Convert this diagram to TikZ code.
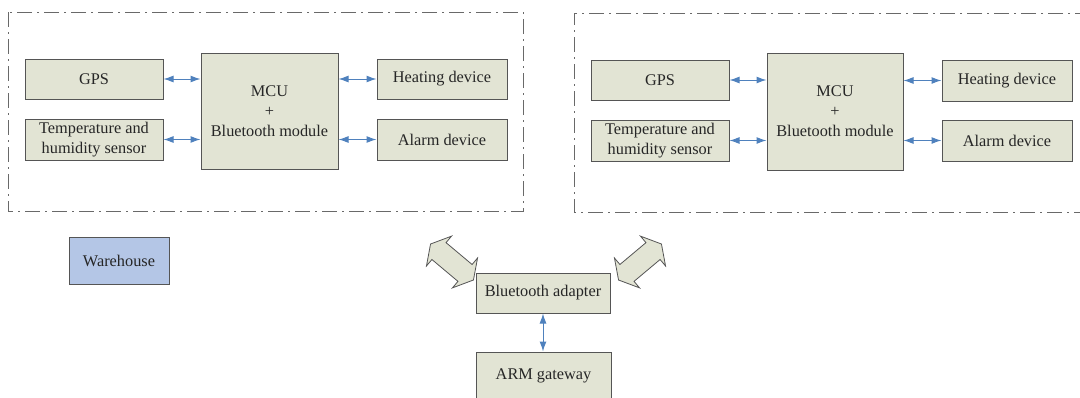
\documentclass[tikz,border=0pt]{standalone}
\usepackage{fontspec}
\setmainfont{Liberation Serif}
\usetikzlibrary{arrows.meta}
\definecolor{boxfill}{RGB}{226,228,212}
\definecolor{boxline}{RGB}{85,85,85}
\definecolor{whfill}{RGB}{180,198,230}
\definecolor{arrowblue}{RGB}{79,129,189}
\definecolor{frameline}{RGB}{105,105,105}
\begin{document}
\begin{tikzpicture}[x=1pt,y=-1pt,
  every node/.style={font=\fontsize{16.3}{20}\selectfont, align=center, inner sep=0pt, text=black!85},
  blk/.style={draw=boxline, fill=boxfill, line width=1pt, rectangle},
  smallblk/.style={blk, minimum width=138pt},
  sideblk/.style={blk, minimum width=130pt},
  biarr/.style={arrowblue, line width=1pt, {Latex[length=10pt,width=7pt]}-{Latex[length=10pt,width=7pt]}},
  frame/.style={frameline, line width=1pt, dash pattern=on 15pt off 5pt on 2pt off 5pt},
  fat/.style={draw=boxline, fill=boxfill, line width=0.8pt, line join=miter}
]
\useasboundingbox (0,0) rectangle (1080,397);

% left group
\draw[frame] (8,12) rectangle (523,211);
\node[smallblk, minimum height=40pt] (gpsA) at (94,79) {GPS};
\node[smallblk, minimum height=41pt] (thA) at (94,139.5) {Temperature and\\humidity sensor};
\node[blk, minimum width=137pt, minimum height=116pt] (mcuA) at (269.5,111) {MCU\\+\\Bluetooth module};
\node[sideblk, minimum height=40pt] (heatA) at (442,79) {Heating device};
\node[sideblk, minimum height=41pt] (alarmA) at (442,139.5) {Alarm device};
\draw[biarr] (gpsA.east) -- (gpsA.east -| mcuA.west);
\draw[biarr] (thA.east) -- (thA.east -| mcuA.west);
\draw[biarr] (mcuA.east |- heatA.west) -- (heatA.west);
\draw[biarr] (mcuA.east |- alarmA.west) -- (alarmA.west);

% right group
\draw[frame] (1090,13) -- (574,13) -- (574,212) -- (1090,212);
\node[smallblk, minimum height=40pt] (gpsB) at (660,80) {GPS};
\node[smallblk, minimum height=41pt] (thB) at (660,140.5) {Temperature and\\humidity sensor};
\node[blk, minimum width=136pt, minimum height=117pt] (mcuB) at (835,111.5) {MCU\\+\\Bluetooth module};
\node[sideblk, minimum height=41pt] (heatB) at (1007,80.5) {Heating device};
\node[sideblk, minimum height=41pt] (alarmB) at (1007,140.5) {Alarm device};
\draw[biarr] (gpsB.east) -- (gpsB.east -| mcuB.west);
\draw[biarr] (thB.east) -- (thB.east -| mcuB.west);
\draw[biarr] (mcuB.east |- heatB.west) -- (heatB.west);
\draw[biarr] (mcuB.east |- alarmB.west) -- (alarmB.west);

% lower part
\node[blk, fill=whfill, minimum width=100pt, minimum height=47pt] (wh) at (119,260.5) {Warehouse};
\node[blk, minimum width=134pt, minimum height=40pt] (bt) at (543,293) {Bluetooth adapter};
\node[blk, minimum width=135pt, minimum height=48pt] (arm) at (543.5,376) {ARM gateway};
\draw[biarr] (bt.south) -- (bt.south |- arm.north);

% wide double arrows
\foreach \cx/\ang in {452/-40, 640/40}{
  \begin{scope}[shift={(\cx,262)}, rotate=\ang]
    \draw[fat] (28,0) -- (17,19.5) -- (17,11) -- (-17,11) -- (-17,19.5) -- (-28,0)
      -- (-17,-19.5) -- (-17,-11) -- (17,-11) -- (17,-19.5) -- cycle;
  \end{scope}
}
\end{tikzpicture}
\end{document}
